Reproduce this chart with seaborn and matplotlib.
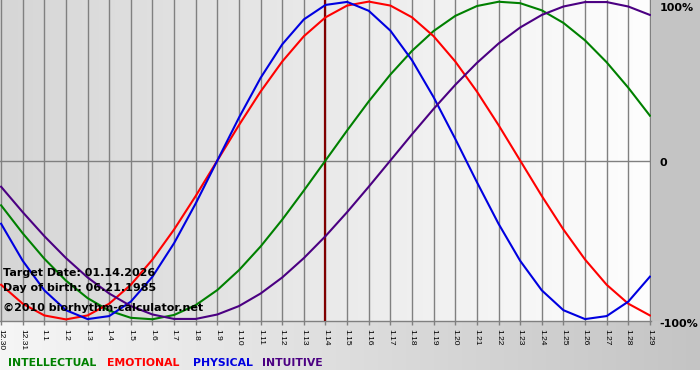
import matplotlib
matplotlib.use("Agg")
import matplotlib.pyplot as plt
import matplotlib.transforms as mtransforms
from matplotlib.colors import LinearSegmentedColormap
import numpy as np
import pandas as pd
import seaborn as sns

# Day labels on the x axis (month.day)
days = ['12.30', '12.31', '1.1', '1.2', '1.3', '1.4', '1.5', '1.6', '1.7', '1.8',
        '1.9', '1.10', '1.11', '1.12', '1.13', '1.14', '1.15', '1.16', '1.17', '1.18',
        '1.19', '1.20', '1.21', '1.22', '1.23', '1.24', '1.25', '1.26', '1.27', '1.28',
        '1.29']
target_day = '1.14'

# Cycle values (-1 .. 1)
intellectual = [-0.282, -0.458, -0.618, -0.756, -0.866, -0.945, -0.990, -0.999, -0.972, -0.910,
                -0.815, -0.690, -0.541, -0.372, -0.189, 0.0, 0.189, 0.372, 0.541, 0.690,
                0.815, 0.910, 0.972, 0.999, 0.990, 0.945, 0.866, 0.756, 0.618, 0.458,
                0.282]
emotional = [-0.782, -0.901, -0.975, -1.0, -0.975, -0.901, -0.782, -0.623, -0.434, -0.223,
             0.0, 0.223, 0.434, 0.623, 0.782, 0.901, 0.975, 1.0, 0.975, 0.901,
             0.782, 0.623, 0.434, 0.223, 0.0, -0.223, -0.434, -0.623, -0.782, -0.901,
             -0.975]
physical = [-0.398, -0.631, -0.817, -0.942, -0.998, -0.979, -0.888, -0.731, -0.520, -0.270,
            0.0, 0.270, 0.520, 0.731, 0.888, 0.979, 0.998, 0.942, 0.817, 0.631,
            0.398, 0.136, -0.136, -0.398, -0.631, -0.817, -0.942, -0.998, -0.979, -0.888,
            -0.731]
intuitive = [-0.165, -0.325, -0.476, -0.614, -0.736, -0.837, -0.916, -0.969, -0.997, -0.997,
             -0.969, -0.916, -0.837, -0.736, -0.614, -0.476, -0.325, -0.165, 0.0, 0.165,
             0.325, 0.476, 0.614, 0.736, 0.837, 0.916, 0.969, 0.997, 0.997, 0.969,
             0.916]

cycles = ['INTELLECTUAL', 'EMOTIONAL', 'PHYSICAL', 'INTUITIVE']
colors = ['#008000', '#ff0000', '#0000e0', '#4b0082']
y_labels = ['100%', '0', '-100%']
y_values = [1, 0, -1]

info_lines = ['Target Date: 01.14.2026', 'Day of birth: 06.21.1985',
              '\u00a92010 biorhythm-calculator.net']

# long-form table for seaborn
df = pd.DataFrame({
    'day': list(range(len(days))) * 4,
    'value': intellectual + emotional + physical + intuitive,
    'cycle': np.repeat(cycles, len(days)),
})

W, H = 700, 380
fig = plt.figure(figsize=(W / 100, H / 100), dpi=100)

# figure background: grey margin, gradient strip under the plot, white bottom
bg = np.full((H, W, 3), 0xc4 / 255.0)
strip = np.linspace(0xf6, 0xc4, W) / 255.0
bg[321:370, :, :] = strip[None, :, None]
bg[370:, :, :] = 1.0
fig.figimage(bg, xo=0, yo=0, origin='upper', zorder=-10)

ax = fig.add_axes([0, 59 / H, 651 / W, 321 / H])
ax.set_xlim(-0.05, len(days) - 1 + 0.05)
ax.set_ylim(-1.01, 1.01)

# plot area gradient
cmap = LinearSegmentedColormap.from_list('bg', ['#d6d6d6', '#fefefe'])
ax.imshow(np.linspace(0, 1, 256)[None, :], cmap=cmap, aspect='auto',
          extent=[-0.05, len(days) - 1 + 0.05, -1.01, 1.01], zorder=0)

sns.lineplot(data=df, x='day', y='value', hue='cycle', hue_order=cycles,
             palette=colors, linewidth=1.5, legend=False, ax=ax, zorder=4)

ax.set_xticks(range(len(days)))
ax.set_xticklabels(days, rotation=270, fontsize=6, family='Liberation Sans')
ax.tick_params(axis='x', length=3, width=1, color='#808080', pad=3)
ax.set_yticks([])
ax.grid(axis='x', color='#808080', linewidth=1.0, zorder=1)
ax.set_axisbelow(False)
ax.axhline(0, color='#808080', linewidth=1.0, zorder=2)
ax.axvline(days.index(target_day), color='#800000', linewidth=1.6, zorder=3)
ax.set_xlabel('')
ax.set_ylabel('')
for side in ['top', 'left', 'right']:
    ax.spines[side].set_visible(False)
ax.spines['bottom'].set_color('#808080')
ax.spines['bottom'].set_linewidth(1.0)

# right-hand percent labels
trans = mtransforms.blended_transform_factory(ax.transAxes, ax.transData)
offsets = [-6.5, -4, -5.5]
for lab, val, off in zip(y_labels, y_values, offsets):
    ax.annotate(lab, xy=(1.013, val), xycoords=trans, xytext=(0, off),
                textcoords='offset points', va='baseline', ha='left',
                fontsize=8, fontweight='bold', color='black', annotation_clip=False)

# info text over the chart
for txt, base in zip(info_lines, [276, 291, 311]):
    fig.text(3 / W, 1 - base / H, txt, fontsize=8, fontweight='bold',
             color='black', va='baseline', ha='left', zorder=10)

# coloured legend words
for name, col, xpx in zip(cycles, colors, [8, 107, 193, 262]):
    fig.text(xpx / W, 1 - 366 / H, name, fontsize=7.8, fontweight='bold',
             color=col, va='baseline', ha='left')

fig.savefig('out.png', dpi=100)
